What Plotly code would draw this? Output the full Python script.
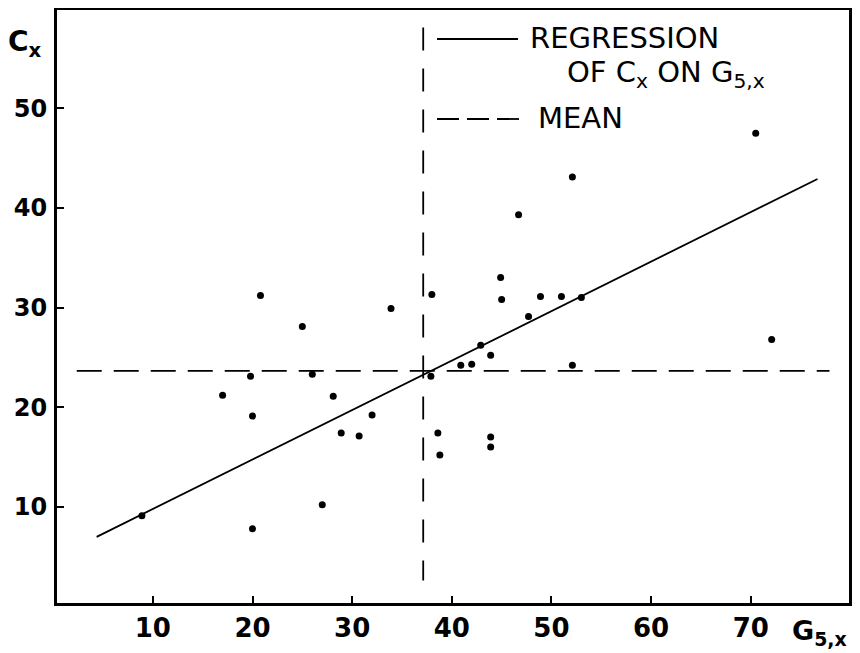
import plotly.graph_objects as go

# Data (G5,x on horizontal, Cx on vertical)
g5x = [8.9, 20.0, 17.0, 20.0, 19.8, 20.8, 25.0, 26.0, 27.0, 28.1, 28.9, 30.7, 32.0,
       33.9, 37.9, 38.0, 38.6, 38.8, 40.9, 42.0, 42.9, 43.9, 43.9, 43.9, 44.9, 45.0,
       46.7, 47.7, 48.9, 51.0, 52.1, 52.1, 53.0, 70.5, 72.1]
cx = [9.1, 7.8, 21.2, 19.1, 23.1, 31.2, 28.1, 23.3, 10.2, 21.1, 17.4, 17.1, 19.2,
      29.9, 23.1, 31.3, 17.4, 15.2, 24.2, 24.3, 26.2, 25.2, 17.0, 16.0, 33.0, 30.8,
      39.3, 29.1, 31.1, 31.1, 43.1, 24.2, 31.0, 47.5, 26.8]

# Regression line of Cx on G5,x (end points)
reg_x = [4.36, 76.7]
reg_y = [6.98, 42.9]

# Means
mean_g = 37.13
mean_c = 23.63

x_ticks = [10, 20, 30, 40, 50, 60, 70]
y_ticks = [10, 20, 30, 40, 50]

FONT = "DejaVu Sans"
# The page body has an 8px margin, so the figure is drawn 8px in from the window edge.
OFF = 8
W, H = 860 - OFF, 653 - OFF
PL, PR, PT, PB = 57, 849, 10, 603          # plot area in window pixels
L, R, T, B = PL - OFF, W - (PR - OFF), PT - OFF, H - (PB - OFF)


def px(xp):
    return (xp - PL) / (PR - PL)


def py(yp):
    return (PB - yp) / (PB - PT)


fig = go.Figure()

fig.add_trace(go.Scatter(x=reg_x, y=reg_y, mode="lines",
                         line=dict(color="black", width=1.8), showlegend=False,
                         hoverinfo="skip"))
fig.add_trace(go.Scatter(x=[mean_g, mean_g], y=[58.1, 2.6], mode="lines",
                         line=dict(color="black", width=1.8, dash="23px,18px"),
                         showlegend=False, hoverinfo="skip"))
fig.add_trace(go.Scatter(x=[2.36, 77.9], y=[mean_c, mean_c], mode="lines",
                         line=dict(color="black", width=1.8, dash="25px,12px"),
                         showlegend=False, hoverinfo="skip"))
fig.add_trace(go.Scatter(x=g5x, y=cx, mode="markers",
                         marker=dict(color="black", size=7), showlegend=False))

# Hand-made legend
fig.add_shape(type="line", xref="paper", yref="paper",
              x0=px(437), x1=px(518), y0=py(39), y1=py(39),
              line=dict(color="black", width=1.8))
fig.add_shape(type="line", xref="paper", yref="paper",
              x0=px(437), x1=px(527), y0=py(119), y1=py(119),
              line=dict(color="black", width=1.8, dash="22px,8px"))

ann = dict(xref="paper", yref="paper", showarrow=False,
           font=dict(family=FONT, size=29, color="black"))
fig.add_annotation(x=px(528), y=py(38), text="REGRESSION", xanchor="left",
                   yanchor="middle", **ann)
fig.add_annotation(x=px(565), y=py(74),
                   text="OF C<sub>x</sub> ON G<sub>5,x</sub>", xanchor="left",
                   yanchor="middle", **ann)
fig.add_annotation(x=px(536), y=py(118), text="MEAN", xanchor="left",
                   yanchor="middle", **ann)

# Axis labels
fig.add_annotation(x=px(6), y=py(43), text="C<sub>x</sub>", xanchor="left",
                   yanchor="middle", xref="paper", yref="paper", showarrow=False,
                   font=dict(family=FONT, size=28, color="black", weight="bold"))
fig.add_annotation(x=px(790), y=py(632), text="G<sub>5,x</sub>", xanchor="left",
                   yanchor="middle", xref="paper", yref="paper", showarrow=False,
                   font=dict(family=FONT, size=27, color="black", weight="bold"))

axis_common = dict(showgrid=False, zeroline=False, showline=True, linecolor="black",
                   linewidth=3, mirror=True, ticks="inside", ticklen=7, tickwidth=2,
                   tickcolor="black", automargin=False)

fig.update_xaxes(range=[0.38, 79.86], tickvals=x_ticks,
                 ticktext=[str(v) for v in x_ticks],
                 tickfont=dict(family=FONT, size=26, color="black", weight="bold"),
                 ticklabelstandoff=0, **axis_common)
fig.update_yaxes(range=[0.34, 59.86], tickvals=y_ticks,
                 ticktext=[str(v) for v in y_ticks],
                 tickfont=dict(family=FONT, size=24, color="black", weight="bold"),
                 ticklabelstandoff=2, **axis_common)

fig.update_layout(width=W, height=H, margin=dict(l=L, r=R, t=T, b=B, autoexpand=False),
                  plot_bgcolor="white", paper_bgcolor="white", showlegend=False)

fig.write_html("out.html")
